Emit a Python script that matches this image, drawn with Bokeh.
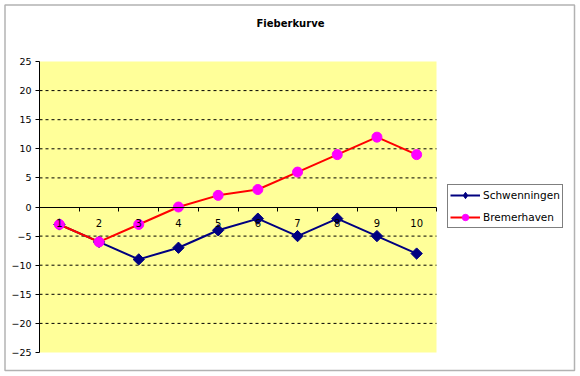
import math
import numpy as np
from bokeh.plotting import figure
from bokeh.models import (ColumnDataSource, FixedTicker, Legend, LegendItem, Range1d,
                          Label, BoxAnnotation)
from bokeh.embed import file_html
from bokeh.resources import INLINE

# ---- data ----
categories = [1, 2, 3, 4, 5, 6, 7, 8, 9, 10]
schwenningen = [-3, -6, -9, -7, -4, -2, -5, -2, -5, -8]
bremerhaven = [-3, -6, -3, 0, 2, 3, 6, 9, 12, 9]
y_ticks = [-25, -20, -15, -10, -5, 0, 5, 10, 15, 20, 25]
grid_ticks = [-20, -15, -10, -5, 5, 10, 15, 20]
title_text = "Fieberkurve"
series_names = ["Schwenningen", "Bremerhaven"]

FONT = "DejaVu Sans"

# ---- layout (pixels) ----
W, H = 580, 376
PX_L, PX_R = 39, 436      # plot area left / right
PX_T, PX_B = 61, 352      # plot area top / bottom
X_LO, X_HI = categories[0] - 0.5, categories[-1] + 0.5
Y_LO, Y_HI = y_ticks[0], y_ticks[-1]
kx = (X_HI - X_LO) / (PX_R - PX_L)
ky = (Y_HI - Y_LO) / (PX_B - PX_T)
x_start = X_LO - PX_L * kx
x_end = X_HI + (W - PX_R) * kx
y_end = Y_HI + PX_T * ky
y_start = Y_LO - (H - PX_B) * ky


def px2x(px):
    return x_start + px * kx


def px2y(py):
    return y_end - py * ky


p = figure(width=W, height=H, output_backend="svg", toolbar_location=None,
           x_range=Range1d(x_start, x_end), y_range=Range1d(y_start, y_end),
           min_border=0, min_border_left=0, min_border_right=0,
           min_border_top=0, min_border_bottom=0)
p.title = None
p.background_fill_color = "white"
p.border_fill_color = "white"
p.outline_line_color = None

# plot area background
p.add_layout(BoxAnnotation(left=X_LO, right=X_HI, bottom=Y_LO, top=Y_HI,
                           fill_color="#FFFF99", fill_alpha=1, line_color=None,
                           level="underlay"))

# dashed gridlines (only across the plot area)
p.segment(x0=[X_LO] * len(grid_ticks), x1=[X_HI] * len(grid_ticks),
          y0=grid_ticks, y1=grid_ticks, line_color="black", line_width=1,
          line_dash="3 3")
p.xgrid.visible = False
p.ygrid.visible = False

# x axis at y = 0
xa = p.xaxis[0]
xa.fixed_location = 0
xa.bounds = (X_LO, X_HI)
xa.ticker = FixedTicker(ticks=categories,
                        minor_ticks=[c - 0.5 for c in categories] + [categories[-1] + 0.5])
xa.major_tick_line_color = None
xa.major_tick_out = 0
xa.major_tick_in = 0
xa.minor_tick_out = 4
xa.minor_tick_in = 0
xa.minor_tick_line_color = "black"
xa.axis_line_color = "black"
xa.major_label_standoff = 8
xa.major_label_text_font = FONT
xa.major_label_text_font_size = "10px"
xa.major_label_text_color = "black"

ya = p.yaxis[0]
ya.fixed_location = X_LO
ya.bounds = (Y_LO, Y_HI)
ya.ticker = FixedTicker(ticks=y_ticks)
ya.minor_tick_line_color = None
ya.major_tick_out = 4
ya.major_tick_in = 0
ya.major_tick_line_color = "black"
ya.axis_line_color = "black"
ya.major_label_standoff = 4
ya.major_label_text_font = FONT
ya.major_label_text_font_size = "9.5px"
ya.major_label_text_color = "black"

src = ColumnDataSource(dict(x=categories, s=schwenningen, b=bremerhaven))

l1 = p.line("x", "s", source=src, line_color="#000080", line_width=2)
m1 = p.scatter("x", "s", source=src, marker="square", size=8, angle=math.pi / 4,
               fill_color="#000080", line_color="#000080")
l2 = p.line("x", "b", source=src, line_color="#FF0000", line_width=2)
m2 = p.scatter("x", "b", source=src, marker="circle", size=10,
               fill_color="#FF00FF", line_color="#FF00FF")

# legend-only glyphs (a single NaN point, never drawn in the plot)
legend_src = ColumnDataSource(dict(x=np.array([np.nan]), y=np.array([np.nan])))
m1_leg = p.scatter("x", "y", source=legend_src, marker="diamond", size=12,
                   fill_color="#000080", line_color="#000080")
m2_leg = p.scatter("x", "y", source=legend_src, marker="circle", size=8,
                   fill_color="#FF00FF", line_color="#FF00FF")

legend = Legend(items=[LegendItem(label=series_names[0], renderers=[l1, m1_leg]),
                       LegendItem(label=series_names[1], renderers=[l2, m2_leg])],
                location=(447, H - 228))
legend.border_line_color = "black"
legend.border_line_width = 1
legend.background_fill_color = "white"
legend.background_fill_alpha = 1
legend.label_text_font = FONT
legend.label_text_font_size = "10.5px"
legend.label_text_color = "black"
legend.glyph_width = 30
legend.glyph_height = 16
legend.spacing = 6
legend.padding = 2
legend.margin = 0
legend.label_standoff = 3
legend.label_height = 16
p.add_layout(legend, "center")

p.add_layout(Label(x=px2x(290), y=px2y(23), text=title_text,
                   text_font=FONT, text_font_size="10px", text_font_style="bold",
                   text_align="center", text_baseline="middle", text_color="black"))

# outer chart border
p.add_layout(BoxAnnotation(left=px2x(4.5), right=px2x(574), top=px2y(4.5), bottom=px2y(370),
                           fill_color=None, fill_alpha=0, line_color="black", line_width=1.5,
                           level="overlay"))

open("out.html", "w").write(file_html(p, INLINE))
